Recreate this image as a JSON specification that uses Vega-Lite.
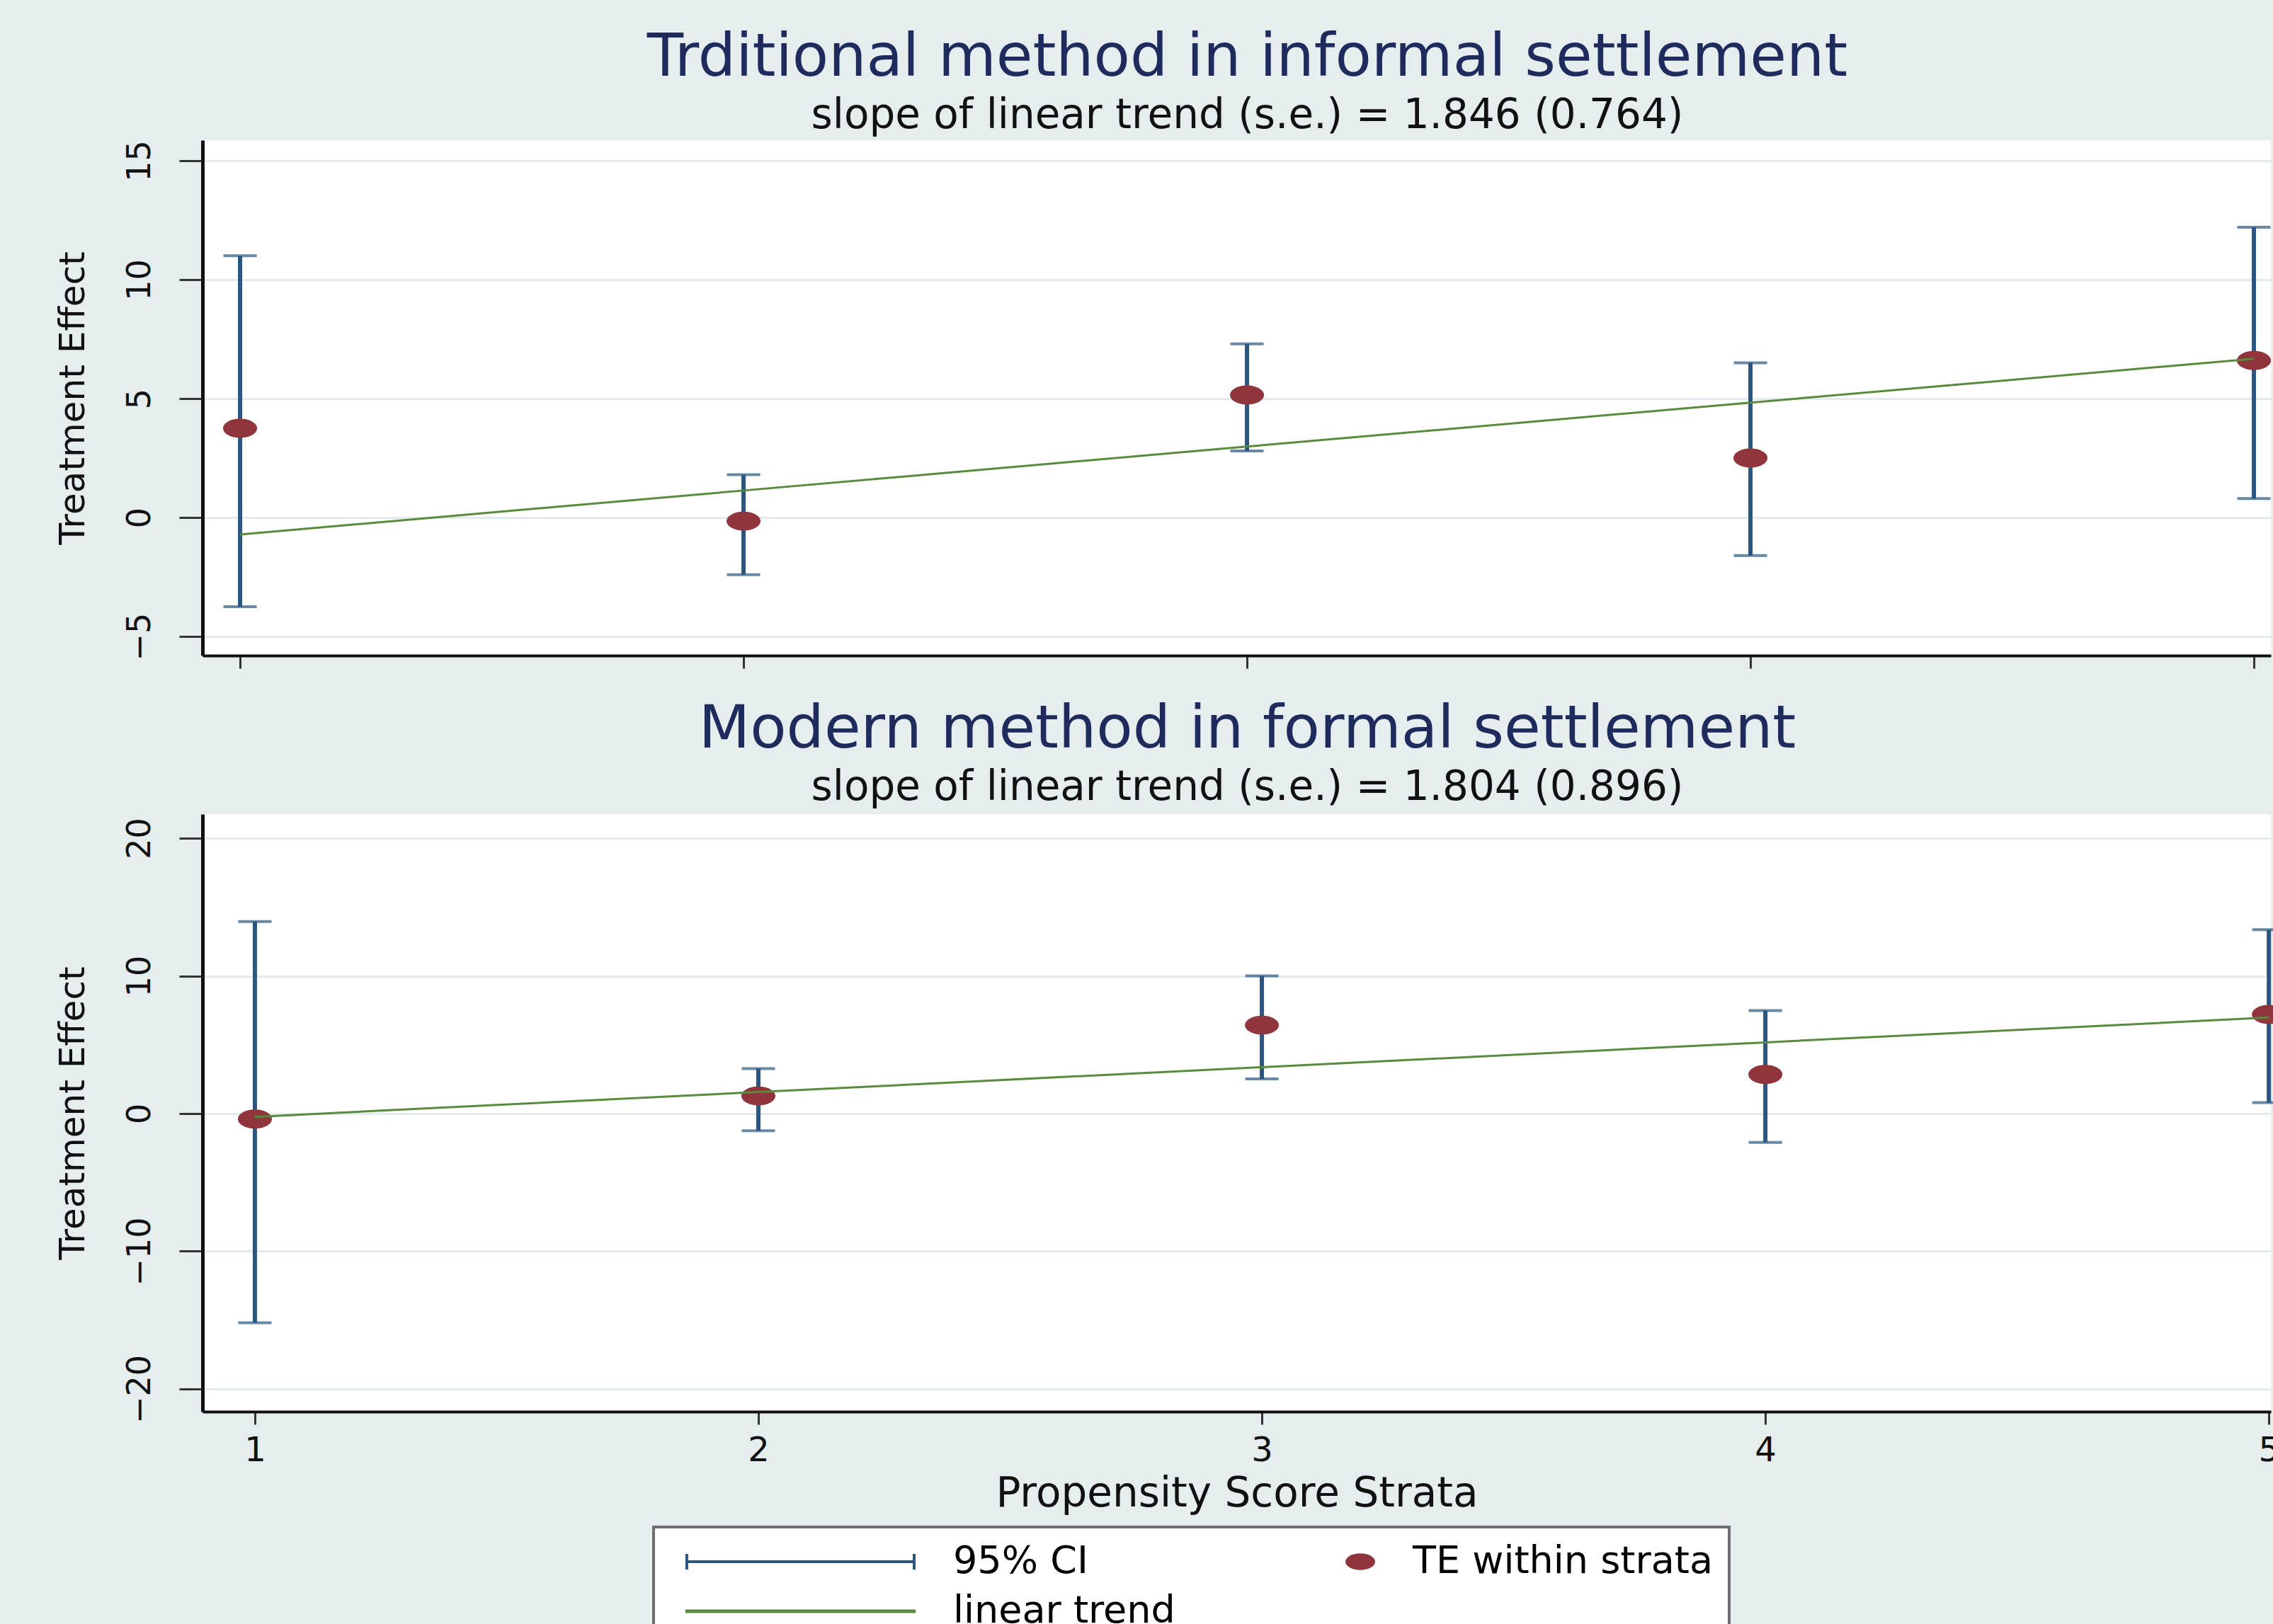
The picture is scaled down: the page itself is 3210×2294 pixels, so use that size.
{
  "$schema": "https://vega.github.io/schema/vega-lite/v6.json",
  "background": "#e5edef",
  "padding": {"left": 78, "top": 39, "right": 0, "bottom": 0},
  "spacing": 43,
  "resolve": {"scale": {"color": "independent", "shape": "independent"}, "legend": {"color": "independent", "shape": "independent"}},
  "config": {
    "font": "DejaVu Sans",
    "view": {"fill": "white", "stroke": null},
    "title": {"anchor": "middle", "font": "DejaVu Sans", "fontSize": 84, "fontWeight": "normal", "color": "#1e2b5c", "subtitleFont": "DejaVu Sans", "subtitleFontSize": 58, "subtitleColor": "#111111", "dx": 15},
    "axis": {"domainColor": "#111111", "tickColor": "#333333", "labelColor": "#111111", "titleColor": "#111111", "labelFont": "DejaVu Sans", "titleFont": "DejaVu Sans", "titleFontWeight": "normal", "labelFlush": false, "labelOverlap": false},
    "axisY": {"domainWidth": 5, "tickWidth": 3, "tickSize": 33, "gridColor": "#e2ebee", "gridWidth": 3, "labelFontSize": 46, "labelAngle": -90, "labelAlign": "center", "labelBaseline": "bottom", "labelPadding": 32, "titleFontSize": 50, "titlePadding": 46},
    "axisX": {"domainWidth": 4, "tickWidth": 3, "tickSize": 18, "grid": false, "labelFontSize": 48, "labelPadding": 13, "titleFontSize": 58, "titlePadding": 8},
    "legend": {"strokeWidth": 4}
  },
  "vconcat": [
    {
      "title": {"text": "Trditional method in informal settlement", "subtitle": "slope of linear trend (s.e.) = 1.846 (0.764)", "offset": 4, "subtitlePadding": 10},
      "width": 2921,
      "height": 728,
      "data": {"values": [
        {"strata": 1, "te": 3.75, "lo": -3.75, "hi": 11.0, "trend": -0.71},
        {"strata": 2, "te": -0.15, "lo": -2.4, "hi": 1.8, "trend": 1.136},
        {"strata": 3, "te": 5.15, "lo": 2.8, "hi": 7.3, "trend": 2.982},
        {"strata": 4, "te": 2.5, "lo": -1.6, "hi": 6.5, "trend": 4.828},
        {"strata": 5, "te": 6.6, "lo": 0.8, "hi": 12.2, "trend": 6.674}
      ]},
      "encoding": {
        "x": {"field": "strata", "type": "quantitative", "scale": {"domain": [0.9254, 5.0337], "nice": false, "zero": false}, "axis": {"values": [1, 2, 3, 4, 5], "labels": false, "title": null}}
      },
      "layer": [
        {"mark": {"type": "rule", "color": "#2a5680", "strokeWidth": 6},
         "encoding": {"y": {"field": "lo", "type": "quantitative", "title": "Treatment Effect", "scale": {"domain": [-5.8, 15.86], "nice": false, "zero": false}, "axis": {"values": [-5, 0, 5, 10, 15]}}, "y2": {"field": "hi"}}},
        {"mark": {"type": "tick", "orient": "horizontal", "color": "#2a5680", "size": 47, "thickness": 4},
         "encoding": {"y": {"field": "hi", "type": "quantitative", "title": "Treatment Effect"}}},
        {"mark": {"type": "tick", "orient": "horizontal", "color": "#2a5680", "size": 47, "thickness": 4},
         "encoding": {"y": {"field": "lo", "type": "quantitative", "title": "Treatment Effect"}}},
        {"mark": {"type": "point", "filled": true, "color": "#90353b", "opacity": 1, "size": 2304, "shape": "M-1,0A1,0.56,0,1,0,1,0A1,0.56,0,1,0,-1,0Z"},
         "encoding": {"y": {"field": "te", "type": "quantitative", "title": "Treatment Effect"}}},
        {"mark": {"type": "line", "color": "#5a8a3c", "strokeWidth": 3},
         "encoding": {"y": {"field": "trend", "type": "quantitative", "title": "Treatment Effect"}}}
      ]
    },
    {
      "title": {"text": "Modern method in formal settlement", "subtitle": "slope of linear trend (s.e.) = 1.804 (0.896)", "offset": 7, "subtitlePadding": 10},
      "width": 2921,
      "height": 844,
      "data": {"values": [
        {"strata": 1, "te": -0.4, "lo": -15.2, "hi": 13.95, "trend": -0.24},
        {"strata": 2, "te": 1.28, "lo": -1.25, "hi": 3.27, "trend": 1.564},
        {"strata": 3, "te": 6.42, "lo": 2.52, "hi": 10.0, "trend": 3.368},
        {"strata": 4, "te": 2.84, "lo": -2.1, "hi": 7.48, "trend": 5.172},
        {"strata": 5, "te": 7.2, "lo": 0.8, "hi": 13.35, "trend": 6.976}
      ]},
      "encoding": {
        "x": {"field": "strata", "type": "quantitative", "scale": {"domain": [0.896, 5.004], "nice": false, "zero": false}, "axis": {"values": [1, 2, 3, 4, 5], "title": "Propensity Score Strata"}}
      },
      "layer": [
        {"mark": {"type": "rule", "color": "#2a5680", "strokeWidth": 6},
         "encoding": {"y": {"field": "lo", "type": "quantitative", "title": "Treatment Effect", "scale": {"domain": [-21.65, 21.75], "nice": false, "zero": false}, "axis": {"values": [-20, -10, 0, 10, 20]}}, "y2": {"field": "hi"}}},
        {"mark": {"type": "tick", "orient": "horizontal", "color": "#2a5680", "size": 47, "thickness": 4},
         "encoding": {"y": {"field": "hi", "type": "quantitative", "title": "Treatment Effect"}}},
        {"mark": {"type": "tick", "orient": "horizontal", "color": "#2a5680", "size": 47, "thickness": 4},
         "encoding": {"y": {"field": "lo", "type": "quantitative", "title": "Treatment Effect"}}},
        {"mark": {"type": "point", "filled": true, "opacity": 1, "size": 2304},
         "encoding": {
           "y": {"field": "te", "type": "quantitative", "title": "Treatment Effect"},
           "color": {"datum": "TE within strata", "type": "nominal",
             "scale": {"domain": ["95% CI", "TE within strata", "linear trend"], "range": ["#2a5680", "#90353b", "#5a8a3c"]},
             "legend": {"orient": "none", "legendX": 637, "legendY": 1007, "direction": "horizontal", "columns": 2, "title": " ", "titleOrient": "left", "titleFontSize": 1, "titlePadding": 300, "symbolSize": 1764, "labelOffset": 47, "rowPadding": 16, "columnPadding": 234, "padding": 22, "fillColor": "white", "strokeColor": "#6e6e6e", "labelFont": "DejaVu Sans", "labelFontSize": 54, "labelColor": "#000000", "labelLimit": 2000, "symbolStrokeWidth": 0, "symbolOpacity": 1}},
           "shape": {"datum": "TE within strata", "type": "nominal",
             "scale": {"domain": ["95% CI", "TE within strata", "linear trend"], "range": [
               "M-14.48,-0.095H1V0.095H-14.48ZM-14.48,-0.52H-14.29V0.52H-14.48ZM0.81,-0.52H1V0.52H0.81Z",
               "M-1,0A1,0.56,0,1,0,1,0A1,0.56,0,1,0,-1,0Z",
               "M-14.48,-0.12H1V0.12H-14.48Z"
             ]},
             "legend": {"orient": "none", "legendX": 637, "legendY": 1007, "direction": "horizontal", "columns": 2, "title": " ", "titleOrient": "left", "titleFontSize": 1, "titlePadding": 300, "symbolSize": 1764, "labelOffset": 47, "rowPadding": 16, "columnPadding": 234, "padding": 22, "fillColor": "white", "strokeColor": "#6e6e6e", "labelFont": "DejaVu Sans", "labelFontSize": 54, "labelColor": "#000000", "labelLimit": 2000, "symbolStrokeWidth": 0, "symbolOpacity": 1}}
         }},
        {"mark": {"type": "line", "color": "#5a8a3c", "strokeWidth": 3},
         "encoding": {"y": {"field": "trend", "type": "quantitative", "title": "Treatment Effect"}}}
      ]
    }
  ]
}
